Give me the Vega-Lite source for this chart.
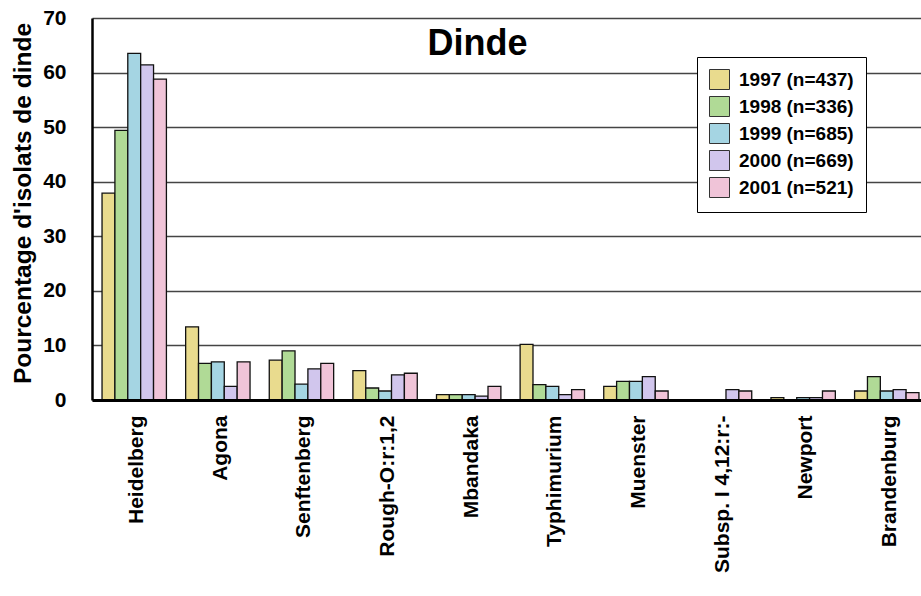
{
  "$schema": "https://vega.github.io/schema/vega-lite/v6.json",
  "autosize": "none",
  "padding": {"left": 92, "top": 18, "right": 0, "bottom": 196},
  "width": 829,
  "height": 382,
  "background": "white",
  "config": {
    "font": "Liberation Sans",
    "view": {"stroke": null}
  },
  "title": {
    "text": "Dinde",
    "font": "Liberation Sans",
    "fontSize": 36,
    "fontWeight": "bold",
    "color": "black",
    "anchor": "middle",
    "frame": "group",
    "orient": "top",
    "baseline": "alphabetic",
    "offset": -84,
    "dx": -29
  },
  "data": {
    "values": [
      {"cat": "Heidelberg", "year": "1997 (n=437)", "v": 37.9},
      {"cat": "Heidelberg", "year": "1998 (n=336)", "v": 49.4},
      {"cat": "Heidelberg", "year": "1999 (n=685)", "v": 63.5},
      {"cat": "Heidelberg", "year": "2000 (n=669)", "v": 61.4},
      {"cat": "Heidelberg", "year": "2001 (n=521)", "v": 58.8},
      {"cat": "Agona", "year": "1997 (n=437)", "v": 13.4},
      {"cat": "Agona", "year": "1998 (n=336)", "v": 6.7},
      {"cat": "Agona", "year": "1999 (n=685)", "v": 7.0},
      {"cat": "Agona", "year": "2000 (n=669)", "v": 2.5},
      {"cat": "Agona", "year": "2001 (n=521)", "v": 7.0},
      {"cat": "Senftenberg", "year": "1997 (n=437)", "v": 7.3},
      {"cat": "Senftenberg", "year": "1998 (n=336)", "v": 9.0},
      {"cat": "Senftenberg", "year": "1999 (n=685)", "v": 2.9},
      {"cat": "Senftenberg", "year": "2000 (n=669)", "v": 5.7},
      {"cat": "Senftenberg", "year": "2001 (n=521)", "v": 6.7},
      {"cat": "Rough-O:r:1,2", "year": "1997 (n=437)", "v": 5.4},
      {"cat": "Rough-O:r:1,2", "year": "1998 (n=336)", "v": 2.2},
      {"cat": "Rough-O:r:1,2", "year": "1999 (n=685)", "v": 1.65},
      {"cat": "Rough-O:r:1,2", "year": "2000 (n=669)", "v": 4.6},
      {"cat": "Rough-O:r:1,2", "year": "2001 (n=521)", "v": 4.9},
      {"cat": "Mbandaka", "year": "1997 (n=437)", "v": 1.0},
      {"cat": "Mbandaka", "year": "1998 (n=336)", "v": 1.0},
      {"cat": "Mbandaka", "year": "1999 (n=685)", "v": 1.0},
      {"cat": "Mbandaka", "year": "2000 (n=669)", "v": 0.7},
      {"cat": "Mbandaka", "year": "2001 (n=521)", "v": 2.5},
      {"cat": "Typhimurium", "year": "1997 (n=437)", "v": 10.2},
      {"cat": "Typhimurium", "year": "1998 (n=336)", "v": 2.8},
      {"cat": "Typhimurium", "year": "1999 (n=685)", "v": 2.5},
      {"cat": "Typhimurium", "year": "2000 (n=669)", "v": 1.0},
      {"cat": "Typhimurium", "year": "2001 (n=521)", "v": 1.9},
      {"cat": "Muenster", "year": "1997 (n=437)", "v": 2.5},
      {"cat": "Muenster", "year": "1998 (n=336)", "v": 3.4},
      {"cat": "Muenster", "year": "1999 (n=685)", "v": 3.4},
      {"cat": "Muenster", "year": "2000 (n=669)", "v": 4.3},
      {"cat": "Muenster", "year": "2001 (n=521)", "v": 1.65},
      {"cat": "Subsp. I 4,12:r:-", "year": "1997 (n=437)", "v": 0},
      {"cat": "Subsp. I 4,12:r:-", "year": "1998 (n=336)", "v": 0},
      {"cat": "Subsp. I 4,12:r:-", "year": "1999 (n=685)", "v": 0},
      {"cat": "Subsp. I 4,12:r:-", "year": "2000 (n=669)", "v": 1.9},
      {"cat": "Subsp. I 4,12:r:-", "year": "2001 (n=521)", "v": 1.65},
      {"cat": "Newport", "year": "1997 (n=437)", "v": 0.45},
      {"cat": "Newport", "year": "1998 (n=336)", "v": 0},
      {"cat": "Newport", "year": "1999 (n=685)", "v": 0.45},
      {"cat": "Newport", "year": "2000 (n=669)", "v": 0.45},
      {"cat": "Newport", "year": "2001 (n=521)", "v": 1.65},
      {"cat": "Brandenburg", "year": "1997 (n=437)", "v": 1.65},
      {"cat": "Brandenburg", "year": "1998 (n=336)", "v": 4.3},
      {"cat": "Brandenburg", "year": "1999 (n=685)", "v": 1.65},
      {"cat": "Brandenburg", "year": "2000 (n=669)", "v": 1.9},
      {"cat": "Brandenburg", "year": "2001 (n=521)", "v": 1.35}
    ]
  },
  "mark": {"type": "bar", "stroke": "#111", "strokeWidth": 1.3, "opacity": 1},
  "encoding": {
    "x": {
      "field": "cat",
      "type": "nominal",
      "sort": null,
      "scale": {"range": [0, 837], "paddingInner": 0.23, "paddingOuter": 0.12},
      "axis": {
        "title": null,
        "labelAngle": -90,
        "labelAlign": "right",
        "labelBaseline": "middle",
        "labelPadding": 15,
        "labelFont": "Liberation Sans",
        "labelFontSize": 21,
        "labelFontWeight": "bold",
        "labelColor": "black",
        "labelLimit": 300,
        "labelOffset": 3,
        "ticks": false,
        "domainColor": "black",
        "domainWidth": 3,
        "zindex": 1
      }
    },
    "xOffset": {
      "field": "year",
      "type": "nominal",
      "scale": {"paddingInner": 0, "paddingOuter": 0}
    },
    "y": {
      "field": "v",
      "type": "quantitative",
      "scale": {"domain": [0, 70], "nice": false},
      "axis": {
        "title": "Pourcentage d'isolats de dinde",
        "titleFont": "Liberation Sans",
        "titleFontSize": 24.5,
        "titleFontWeight": "bold",
        "titleColor": "black",
        "titlePadding": 7,
        "titleY": 185,
        "values": [0, 10, 20, 30, 40, 50, 60, 70],
        "labelFont": "Liberation Sans",
        "labelFontSize": 21,
        "labelFontWeight": "bold",
        "labelColor": "black",
        "labelPadding": 26,
        "ticks": false,
        "domainColor": "black",
        "domainWidth": 2.5,
        "grid": true,
        "gridColor": "#444",
        "gridWidth": 1.5
      }
    },
    "color": {
      "field": "year",
      "type": "nominal",
      "scale": {
        "domain": ["1997 (n=437)", "1998 (n=336)", "1999 (n=685)", "2000 (n=669)", "2001 (n=521)"],
        "range": ["#E9DB8E", "#B0DA96", "#A5D5E3", "#D1C6ED", "#F0C4D8"]
      },
      "legend": {
        "title": null,
        "orient": "none",
        "legendX": 605,
        "legendY": 39,
        "padding": 12,
        "fillColor": "white",
        "strokeColor": "black",
        "symbolType": "square",
        "symbolSize": 400,
        "symbolStrokeColor": "#333",
        "symbolStrokeWidth": 1,
        "symbolOpacity": 1,
        "symbolFillOpacity": 1,
        "labelFont": "Liberation Sans",
        "labelFontSize": 19,
        "labelFontWeight": "bold",
        "labelColor": "black",
        "labelOffset": 9,
        "rowPadding": 2,
        "labelLimit": 200
      }
    }
  }
}
